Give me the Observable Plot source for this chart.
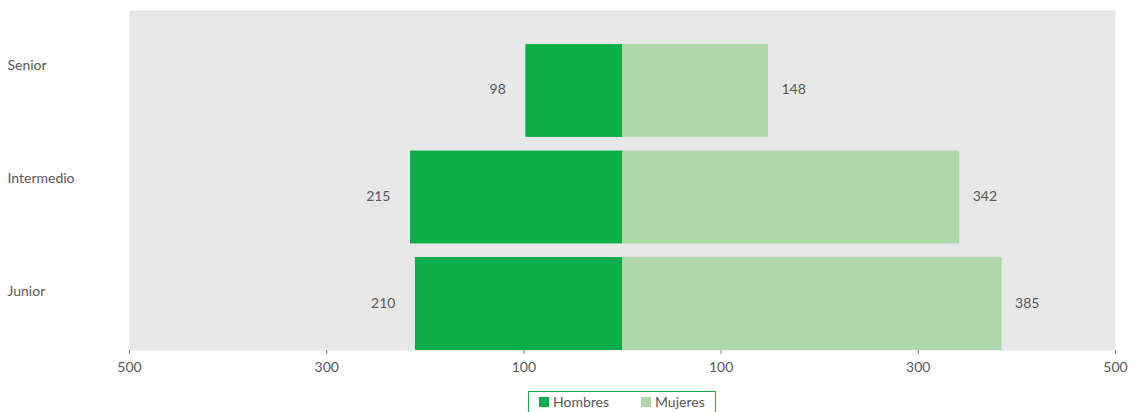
<!DOCTYPE html>
<html>
<head>
<meta charset="utf-8">
<script src="https://cdn.jsdelivr.net/npm/d3@7"></script>
<script src="https://cdn.jsdelivr.net/npm/@observablehq/plot@0.6"></script>
<style>
  html, body { margin: 0; padding: 0; background: #fff; }
  body { width: 1132px; height: 412px; overflow: hidden; font-family: Lato, "Open Sans", sans-serif; }
  #chart svg { display: block; }
  #legend {
    position: absolute; left: 528px; top: 391px; width: 188px; height: 22px;
    border: 1px solid #10ad4b; box-sizing: border-box; background: #fff;
    font-size: 14px; color: #595959;
  }
  #legend .item { position: absolute; top: 2px; display: flex; align-items: center; gap: 4px; line-height: 16px; }
  #legend .sw { width: 10px; height: 10px; display: inline-block; }
</style>
</head>
<body>
<div id="chart"></div>
<div id="legend"></div>
<script>
// ---- data ----
const categories = ["Senior", "Intermedio", "Junior"];
const hombres = [98, 215, 210];
const mujeres = [148, 342, 385];
const seriesNames = ["Hombres", "Mujeres"];
const seriesColors = ["#0dad4a", "#aed8ab"];
const xTicks = [-500, -300, -100, 100, 300, 500];

// ---- layout helpers (row units) ----
const barStep = 0.94, barOffset = 0.3, barHeight = 0.82;
const rows = categories.map((c, i) => ({
  cat: c, i,
  y1: barOffset + i * barStep,
  y2: barOffset + i * barStep + barHeight,
  yc: barOffset + i * barStep + barHeight / 2,
  hombres: hombres[i], mujeres: mujeres[i]
}));

const textColor = "#595959";

const chart = Plot.plot({
  width: 1132,
  height: 390,
  marginLeft: 129,
  marginRight: 17,
  marginTop: 10,
  marginBottom: 40,
  style: { fontFamily: "Lato, 'Open Sans', sans-serif", fontSize: "14px", color: textColor, background: "#fff" },
  x: { domain: [-500, 500], axis: null },
  y: { domain: [3, 0], axis: null },
  marks: [
    Plot.frame({ fill: "#e8e8e8", stroke: null }),
    Plot.rectX(rows, { x1: 0, x2: d => -d.hombres, y1: "y1", y2: "y2", fill: seriesColors[0] }),
    Plot.rectX(rows, { x1: 0, x2: d => d.mujeres, y1: "y1", y2: "y2", fill: seriesColors[1] }),
    Plot.text(rows, { x: d => -d.hombres, y: "yc", text: d => String(d.hombres), textAnchor: "end", dx: -20, dy: -1, fill: textColor, fontSize: 14 }),
    Plot.text(rows, { x: d => d.mujeres, y: "yc", text: d => String(d.mujeres), textAnchor: "start", dx: 13, dy: -1, fill: textColor, fontSize: 14 }),
    Plot.axisX({ ticks: xTicks, tickFormat: d => String(Math.abs(d)), tickSize: 4, tickPadding: 8, stroke: "#7f7f7f", color: textColor, fontSize: 14 }),
    Plot.axisY({ ticks: categories.map((c, i) => i + 0.5), tickFormat: v => categories[Math.floor(v)], tickSize: 0, tickPadding: 0, textAnchor: "start", dx: -122, dy: -2, color: textColor, fontSize: 14 })
  ]
});
document.getElementById("chart").appendChild(chart);

// ---- legend ----
const legend = document.getElementById("legend");
const lefts = [10, 112];
seriesNames.forEach((name, k) => {
  const it = document.createElement("div");
  it.className = "item";
  it.style.left = lefts[k] + "px";
  const sw = document.createElement("span");
  sw.className = "sw";
  sw.style.background = seriesColors[k];
  const tx = document.createElement("span");
  tx.textContent = name;
  it.appendChild(sw); it.appendChild(tx);
  legend.appendChild(it);
});
</script>
</body>
</html>
